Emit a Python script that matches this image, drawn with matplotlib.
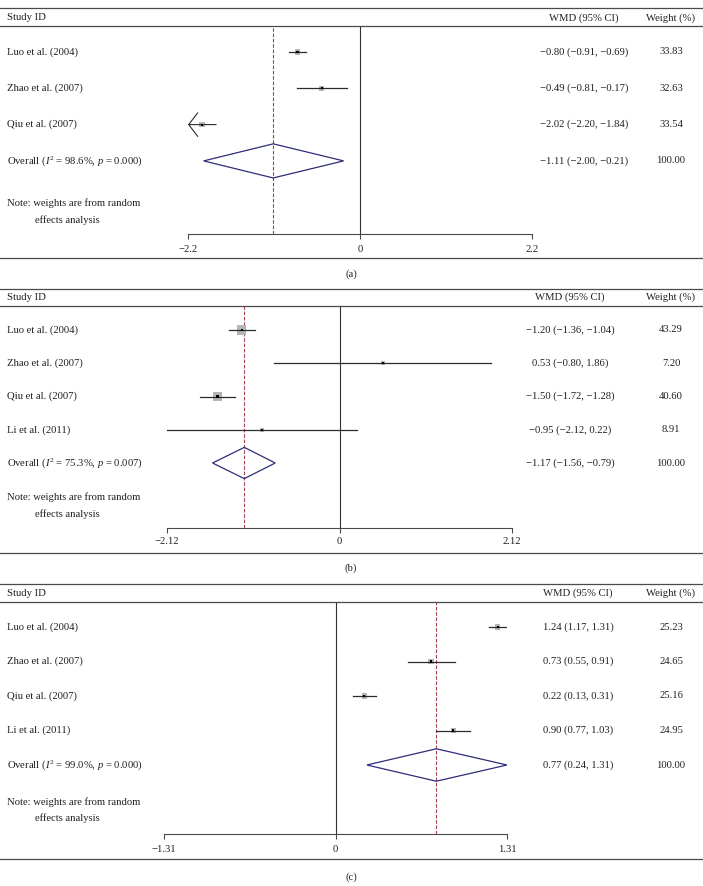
import numpy as np
import matplotlib.pyplot as plt
from matplotlib.lines import Line2D
from matplotlib.transforms import blended_transform_factory

plt.rcParams['font.family'] = ['Liberation Serif', 'DejaVu Serif']
plt.rcParams['mathtext.fontset'] = 'custom'
plt.rcParams['mathtext.rm'] = 'Liberation Serif'
plt.rcParams['mathtext.it'] = 'Liberation Serif:italic'

# Dados dos tres forest plots
studies_a = ["Luo et al. (2004)", "Zhao et al. (2007)", "Qiu et al. (2007)"]
est_a = [-0.80, -0.49, -2.02]
lo_a = [-0.91, -0.81, -2.204]
hi_a = [-0.69, -0.17, -1.84]
w_a = [33.83, 32.63, 33.54]
overall_a = [-1.11, -2.00, -0.21]
i2_a, p_a = "98.6%", "0.000"
lim_a = 2.2

studies_b = ["Luo et al. (2004)", "Zhao et al. (2007)", "Qiu et al. (2007)", "Li et al. (2011)"]
est_b = [-1.20, 0.53, -1.50, -0.95]
lo_b = [-1.36, -0.80, -1.72, -2.12]
hi_b = [-1.04, 1.86, -1.28, 0.22]
w_b = [43.29, 7.20, 40.60, 8.91]
overall_b = [-1.17, -1.56, -0.79]
i2_b, p_b = "75.3%", "0.007"
lim_b = 2.12

studies_c = ["Luo et al. (2004)", "Zhao et al. (2007)", "Qiu et al. (2007)", "Li et al. (2011)"]
est_c = [1.24, 0.73, 0.22, 0.90]
lo_c = [1.17, 0.55, 0.13, 0.77]
hi_c = [1.31, 0.91, 0.31, 1.03]
w_c = [25.23, 24.65, 25.16, 24.95]
overall_c = [0.77, 0.24, 1.31]
i2_c, p_c = "99.0%", "0.000"
lim_c = 1.31

# layout em pixels (imagem 703x886)
W, H = 703, 886
txt_col = '#231f20'
rule_col = '#4a4a4a'
fs = 7.7

layouts = [
    dict(top=8, head=18, hrule=26, row0=52, step=36.3, note=(203, 220), axis=234,
         pad=4.2, brule=258, cap=274, xl=188, xr=532, wmd_x=584, box_k=0.95, cap_txt="(a)"),
    dict(top=289, head=297, hrule=306, row0=330, step=33.25, note=(497, 514), axis=528,
         pad=3.0, brule=553, cap=568, xl=167, xr=512, wmd_x=570, box_k=1.4, cap_txt="(b)"),
    dict(top=584, head=593, hrule=602, row0=627, step=34.5, note=(802, 818), axis=834,
         pad=4.2, brule=859, cap=877, xl=164, xr=507, wmd_x=578, box_k=1.05, cap_txt="(c)"),
]
panels = [
    (studies_a, est_a, lo_a, hi_a, w_a, overall_a, i2_a, p_a, lim_a),
    (studies_b, est_b, lo_b, hi_b, w_b, overall_b, i2_b, p_b, lim_b),
    (studies_c, est_c, lo_c, hi_c, w_c, overall_c, i2_c, p_c, lim_c),
]


def fmt(v):
    return f"{v:.2f}".replace("-", "\u2212")


def fmt_lim(v):
    s = f"{v:g}" if v != 0 else "0"
    return s.replace("-", "\u2212")


fig = plt.figure(figsize=(W / 100, H / 100), dpi=100)

for (names, est, lo, hi, w, ov, i2, pv, lim), L in zip(panels, layouts):
    ax = fig.add_axes([L['xl'] / W, 1 - L['axis'] / H,
                       (L['xr'] - L['xl']) / W, (L['axis'] - L['hrule']) / H])
    ax.set_xlim(-lim, lim)
    ax.set_ylim(L['axis'], L['hrule'])
    ax.patch.set_alpha(0)
    for s in ['left', 'right', 'top']:
        ax.spines[s].set_visible(False)
    ax.spines['bottom'].set_bounds(-lim, lim)
    ax.spines['bottom'].set_color(rule_col)
    ax.spines['bottom'].set_linewidth(0.8)
    ax.set_yticks([])
    ticks = [-lim, 0, lim]
    ax.set_xticks(ticks)
    ax.set_xticklabels([fmt_lim(t) for t in ticks], fontsize=fs, color=txt_col)
    ax.tick_params(axis='x', direction='out', length=3.6, width=0.8,
                   color=rule_col, pad=L['pad'])

    trans = blended_transform_factory(fig.transFigure, ax.transData)
    ys = L['row0'] + L['step'] * np.arange(len(names) + 1)

    # linha do zero e linha do efeito global
    ax.axvline(0, color='#333333', lw=0.8, zorder=1)
    ax.axvline(ov[0], color='#a4404c', lw=0.8, dashes=(3.2, 1.6), zorder=1)

    # estudos
    for i in range(len(names)):
        y = ys[i]
        side = L['box_k'] * np.sqrt(w[i])
        ax.scatter(est[i], y, marker='s', s=(0.72 * side) ** 2, color='#b5b5b5',
                   edgecolors='none', zorder=2)
        a, b = max(lo[i], -lim), min(hi[i], lim)
        if lo[i] < -lim:
            # IC passa do limite: seta aberta
            ax.annotate("", xy=(-lim, y), xytext=(b, y),
                        arrowprops=dict(arrowstyle='->,head_length=0.65,head_width=0.85',
                                        color='#2b2b2b', lw=0.8, shrinkA=0, shrinkB=0),
                        annotation_clip=False, zorder=3)
        else:
            ax.plot([a, b], [y, y], color='#2b2b2b', lw=0.9, zorder=3)
        ax.scatter(est[i], y, marker='s', s=2.4, color='black', edgecolors='none', zorder=4)

        ax.text(7 / W, y, names[i], transform=trans, ha='left', va='center',
                fontsize=fs, color=txt_col)
        ax.text(L['wmd_x'] / W, y, f"{fmt(est[i])} ({fmt(lo[i])}, {fmt(hi[i])})",
                transform=trans, ha='center', va='center', fontsize=fs, color=txt_col)
        ax.text(671 / W, y, f"{w[i]:.2f}", transform=trans, ha='center', va='center',
                fontsize=fs, color=txt_col)

    # diamante global
    yo = ys[-1]
    hh = 0.47 * L['step']
    ax.fill([ov[1], ov[0], ov[2], ov[0], ov[1]], [yo, yo - hh, yo, yo + hh, yo],
            facecolor='none', edgecolor='#2e2d7a', lw=0.9, zorder=3)
    ax.text(7 / W, yo, rf"Overall ($I^2$ = {i2}, $p$ = {pv})",
            transform=trans, ha='left', va='center', fontsize=fs, color=txt_col)
    ax.text(L['wmd_x'] / W, yo, f"{fmt(ov[0])} ({fmt(ov[1])}, {fmt(ov[2])})",
            transform=trans, ha='center', va='center', fontsize=fs, color=txt_col)
    ax.text(671 / W, yo, "100.00", transform=trans, ha='center', va='center',
            fontsize=fs, color=txt_col)

    # nota
    ax.text(7 / W, L['note'][0], "Note: weights are from random", transform=trans,
            ha='left', va='center', fontsize=fs, color=txt_col)
    ax.text(35 / W, L['note'][1], "effects analysis", transform=trans,
            ha='left', va='center', fontsize=fs, color=txt_col)

    # cabecalho
    ax.text(7 / W, L['head'], "Study ID", transform=trans, ha='left', va='center',
            fontsize=fs, color=txt_col)
    ax.text(L['wmd_x'] / W, L['head'], "WMD (95% CI)", transform=trans, ha='center',
            va='center', fontsize=fs, color=txt_col)
    ax.text(671 / W, L['head'], "Weight (%)", transform=trans, ha='center',
            va='center', fontsize=fs, color=txt_col)

    # linhas horizontais da tabela
    for yy in [L['top'], L['hrule'], L['brule']]:
        fig.add_artist(Line2D([0, 1], [1 - yy / H, 1 - yy / H], transform=fig.transFigure,
                              color=rule_col, lw=0.9))
    fig.text(351 / W, 1 - L['cap'] / H, L['cap_txt'], ha='center', va='center',
             fontsize=fs, color=txt_col)

plt.savefig('out.png', dpi=100)
